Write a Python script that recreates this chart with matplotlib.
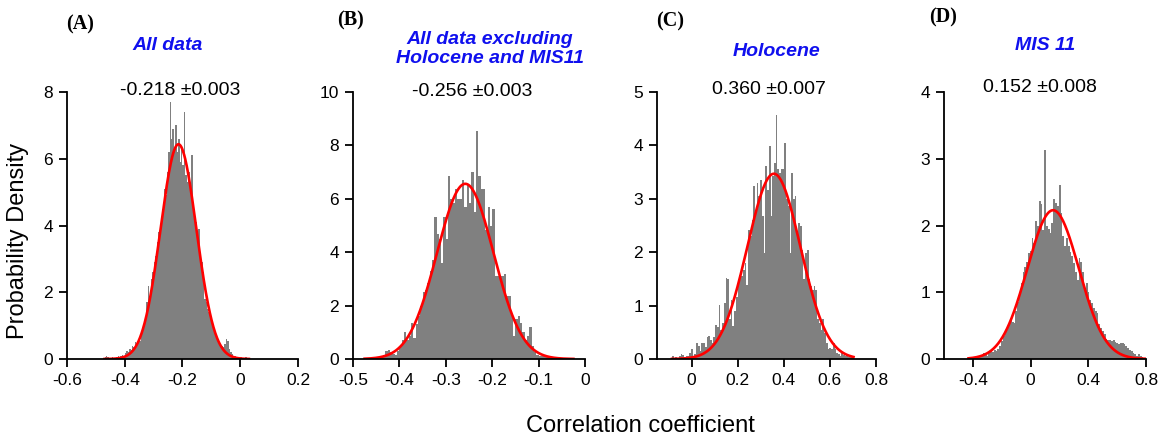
import numpy as np
import matplotlib
matplotlib.use("Agg")
import matplotlib.pyplot as plt

plt.rcParams["font.family"] = ["Liberation Sans", "DejaVu Sans"]

# ---- data ----------------------------------------------------------------
panel_letters = ["(A)", "(B)", "(C)", "(D)"]
panel_titles = ["All data", "All data excluding\nHolocene and MIS11", "Holocene", "MIS 11"]
stat_labels = ["-0.218 \u00b10.003", "-0.256 \u00b10.003", "0.360 \u00b10.007", "0.152 \u00b10.008"]

# histogram: first bin edge, bin width, bar heights (probability density)
hist_start = [-0.47, -0.475, -0.085, -0.43]
hist_width = [0.005, 0.005, 0.0075, 0.0125]

dens_a = [0.05, 0.08, 0.05, 0.03, 0.0, 0.05, 0.0, 0.03, 0.05, 0.08,
          0.05, 0.1, 0.12, 0.1, 0.18, 0.25, 0.2, 0.3, 0.28, 0.4,
          0.35, 0.5, 0.45, 0.6, 0.55, 0.75, 0.9, 1.1, 1.3, 1.7,
          2.2, 1.9, 2.4, 2.6, 2.9, 3.1, 3.5, 3.8, 3.7, 4.1,
          4.5, 5.1, 4.9, 5.6, 6.2, 7.7, 6.6, 6.9, 6.3, 7.0,
          6.2, 6.6, 5.9, 6.3, 5.8, 7.4, 5.5, 5.3, 5.6, 5.0,
          6.1, 4.6, 4.4, 4.1, 3.7, 3.9, 3.1, 2.9, 2.6, 1.8,
          1.7, 1.5, 1.4, 1.2, 1.1, 0.95, 0.85, 0.75, 0.6, 0.5,
          0.45, 0.4, 0.35, 0.45, 0.6, 0.55, 0.3, 0.2, 0.15, 0.1,
          0.08, 0.05, 0.05, 0.03, 0.05, 0.0, 0.03, 0.05, 0.05, 0.03]

dens_b = [0.03, 0.0, 0.05, 0.03, 0.05, 0.08, 0.05, 0.1, 0.15, 0.3,
          0.35, 0.25, 0.2, 0.15, 0.3, 0.5, 0.7, 1.0, 0.7, 0.85,
          1.35, 0.8, 1.3, 1.6, 2.0, 2.5, 2.6, 2.85, 3.3, 3.7,
          5.3, 4.7, 4.5, 3.6, 5.3, 4.5, 6.85, 6.0, 5.85, 6.35,
          6.0, 6.0, 6.7, 5.7, 6.5, 5.85, 7.0, 5.5, 8.55, 6.85,
          6.35, 6.35, 4.85, 5.7, 5.0, 5.6, 3.1, 3.1, 3.1, 3.1,
          3.2, 2.35, 2.35, 1.7, 0.85, 1.5, 1.6, 1.35, 1.0, 0.7,
          0.85, 1.2, 0.5, 0.25, 0.15, 0.12, 0.1, 0.1, 0.08, 0.1,
          0.05, 0.08, 0.05, 0.03, 0.05, 0.03, 0.0, 0.03, 0.02, 0.02]

dens_c = [0.05, 0.0, 0.03, 0.0, 0.05, 0.1, 0.08, 0.03, 0.05, 0.05,
          0.12, 0.19, 0.05, 0.1, 0.3, 0.24, 0.15, 0.3, 0.3, 0.22,
          0.42, 0.44, 0.35, 0.3, 0.42, 0.64, 0.6, 1.02, 0.55, 0.67,
          1.05, 1.52, 1.49, 0.74, 1.11, 0.61, 0.9, 1.17, 1.4, 1.58,
          1.55, 1.67, 1.8, 1.39, 2.42, 2.3, 2.6, 3.24, 2.74, 3.3,
          3.05, 3.36, 2.67, 1.99, 3.61, 3.17, 3.99, 2.67, 3.43, 3.67,
          4.56, 3.55, 3.49, 3.55, 3.55, 4.05, 2.99, 2.86, 1.99, 3.49,
          2.99, 3.05, 2.36, 2.55, 2.49, 2.05, 1.49, 1.99, 2.05, 1.49,
          1.36, 1.3, 1.36, 1.3, 0.74, 0.67, 0.55, 0.74, 0.49, 0.3,
          0.18, 0.2, 0.18, 0.3, 0.18, 0.11, 0.1, 0.05, 0.11, 0.08,
          0.05, 0.05, 0.03, 0.05, 0.03]

dens_d = [0.02, 0.0, 0.03, 0.02, 0.04, 0.02, 0.05, 0.04, 0.09, 0.06,
          0.05, 0.1, 0.12, 0.1, 0.14, 0.12, 0.15, 0.2, 0.27, 0.34,
          0.38, 0.44, 0.52, 0.59, 0.55, 0.54, 0.72, 0.85, 0.97, 1.14,
          1.3, 1.38, 1.46, 1.59, 1.62, 1.82, 1.74, 2.07, 2.0, 2.37,
          2.32, 1.94, 3.13, 1.99, 1.95, 1.89, 2.04, 2.39, 2.34, 2.29,
          2.6, 2.19, 1.85, 1.69, 1.82, 1.7, 1.6, 1.54, 1.44, 1.3,
          1.19, 1.52, 1.45, 1.3, 1.04, 1.14, 1.0, 0.89, 0.84, 0.76,
          0.72, 0.69, 0.52, 0.46, 0.42, 0.38, 0.3, 0.29, 0.29, 0.27,
          0.29, 0.25, 0.24, 0.22, 0.24, 0.24, 0.22, 0.19, 0.16, 0.14,
          0.12, 0.09, 0.07, 0.05, 0.07, 0.04, 0.03, 0.02]

densities = [dens_a, dens_b, dens_c, dens_d]

# fitted normal curves (mean, sd)
fit_mean = [-0.214, -0.258, 0.357, 0.156]
fit_sd = [0.062, 0.0608, 0.115, 0.179]

# axes setup
x_limits = [(-0.6, 0.2), (-0.5, 0.0), (-0.15, 0.8), (-0.6, 0.8)]
x_ticks = [[-0.6, -0.4, -0.2, 0, 0.2],
           [-0.5, -0.4, -0.3, -0.2, -0.1, 0],
           [0, 0.2, 0.4, 0.6, 0.8],
           [-0.4, 0, 0.4, 0.8]]
x_ticklabels = [["-0.6", "-0.4", "-0.2", "0", "0.2"],
                ["-0.5", "-0.4", "-0.3", "-0.2", "-0.1", "0"],
                ["0", "0.2", "0.4", "0.6", "0.8"],
                ["-0.4", "0", "0.4", "0.8"]]
y_max = [8, 10, 5, 4]

# ---- figure ---------------------------------------------------------------
W, H = 1165, 441
fig = plt.figure(figsize=(W / 100, H / 100), dpi=100)

ax_px = [(67, 231), (353, 232), (657, 219), (944, 202)]   # left, width (pixels)
top_px, bot_px = 92, 359

letter_pos = [(80, 24), (350, 20), (670, 21), (943, 17)]
title_pos = [(168, 46), (490, 49), (777, 51), (1045, 46)]
stat_pos = [(180, 91), (472, 92), (769, 89), (1040, 88)]

for i in range(4):
    left, width = ax_px[i]
    ax = fig.add_axes([left / W, 1 - bot_px / H, width / W, (bot_px - top_px) / H])

    d = np.array(densities[i])
    edges = hist_start[i] + hist_width[i] * np.arange(len(d) + 1)
    ax.bar(edges[:-1], d, width=hist_width[i], align="edge",
           color="#808080", edgecolor="none", linewidth=0)

    xs = np.linspace(edges[0], edges[-1], 400)
    mu, sd = fit_mean[i], fit_sd[i]
    ax.plot(xs, np.exp(-0.5 * ((xs - mu) / sd) ** 2) / (sd * np.sqrt(2 * np.pi)),
            color="red", lw=1.9)

    ax.set_xlim(*x_limits[i])
    ax.set_ylim(0, y_max[i])
    ax.set_xticks(x_ticks[i])
    ax.set_xticklabels(x_ticklabels[i])
    ax.set_yticks(range(0, y_max[i] + 1, 2 if y_max[i] >= 8 else 1))
    for s in ["top", "right"]:
        ax.spines[s].set_visible(False)
    for s in ["left", "bottom"]:
        ax.spines[s].set_linewidth(1.3)
    ax.tick_params(direction="out", length=6, width=1.3, labelsize=12.5, pad=4)

    fig.text(letter_pos[i][0] / W, 1 - letter_pos[i][1] / H, panel_letters[i],
             family=["Liberation Serif"], fontweight="bold", fontsize=14.5,
             ha="center", va="center")
    fig.text(title_pos[i][0] / W, 1 - title_pos[i][1] / H, panel_titles[i],
             color="#1010ee", fontweight="bold", fontstyle="italic", fontsize=14,
             ha="center", va="center", linespacing=1.15)
    fig.text(stat_pos[i][0] / W, 1 - stat_pos[i][1] / H, stat_labels[i],
             fontsize=14, ha="center", va="center")

fig.text(18 / W, 1 - 241 / H, "Probability Density", rotation=90,
         fontsize=17, ha="center", va="center")
fig.text(640 / W, 1 - 426 / H, "Correlation coefficient",
         fontsize=17, ha="center", va="center")

fig.savefig("out.png", dpi=100)
